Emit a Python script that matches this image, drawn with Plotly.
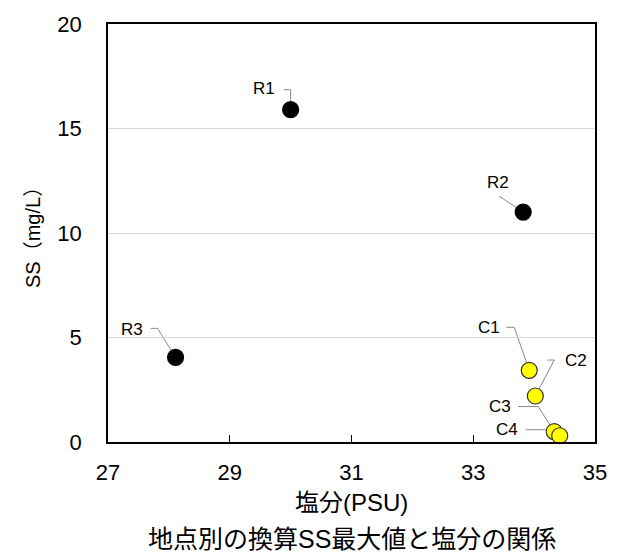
import plotly.graph_objects as go

sites = ["R1", "R2", "R3", "C1", "C2", "C3", "C4"]
salinity = [30.0, 33.82, 28.11, 33.92, 34.02, 34.33, 34.42]
ss = [15.9, 11.0, 4.05, 3.43, 2.2, 0.5, 0.3]
groups = ["R", "R", "R", "C", "C", "C", "C"]

x_ticks = [27, 29, 31, 33, 35]
y_ticks = [0, 5, 10, 15, 20]

# label offsets (pixels) and leader paths (pixel offsets from point, y up)
label_off = {
    "R1": (-27, -21), "R2": (-25, -30), "R3": (-44, -28),
    "C1": (-40, -43), "C2": (41, -36), "C3": (-54, -25), "C4": (-53, -6),
}
leader = {
    "R1": "M -7,20 L 0,20 L 0,0",
    "R2": "M -24,16 L 0,0",
    "R3": "M -25,29 L -18,29 L 0,0",
    "C1": "M -23,43 L -15,43 L 0,0",
    "C2": "M 12,36 L 19,36 L 0,0",
    "C3": "M -36,25 L -16,25 L 0,0",
    "C4": "M -34,6 L -11,6 L 0,0",
}

fig = go.Figure()
for g, fill, line in [("R", "black", "black"), ("C", "#ffff00", "#333333")]:
    xs = [salinity[i] for i in range(len(sites)) if groups[i] == g]
    ys = [ss[i] for i in range(len(sites)) if groups[i] == g]
    fig.add_trace(go.Scatter(x=xs, y=ys, mode="markers",
                             marker=dict(size=16, color=fill, line=dict(color=line, width=1.2)),
                             showlegend=False, cliponaxis=False))

shapes = []
annotations = []
for i, s in enumerate(sites):
    shapes.append(dict(type="path", xref="x", yref="y", xsizemode="pixel", ysizemode="pixel",
                       xanchor=salinity[i], yanchor=ss[i], path=leader[s],
                       line=dict(color="#888888", width=1), layer="below"))
    dx, dy = label_off[s]
    annotations.append(dict(x=salinity[i], y=ss[i], xref="x", yref="y", text=s,
                            showarrow=True, arrowcolor="rgba(0,0,0,0)", ax=dx, ay=dy,
                            font=dict(size=17, color="black", family="Liberation Sans, Arial")))

jp = "Liberation Sans, Noto Sans CJK JP"
annotations.append(dict(x=0.5, y=-0.145, xref="paper", yref="paper", text="塩分(PSU)",
                        showarrow=False, xanchor="center", yanchor="middle",
                        font=dict(size=24, color="black", family=jp)))
annotations.append(dict(x=0.5, y=-0.233, xref="paper", yref="paper", text="地点別の換算SS最大値と塩分の関係",
                        showarrow=False, xanchor="center", yanchor="middle",
                        font=dict(size=25, color="black", family=jp)))
annotations.append(dict(x=-0.154, y=0.5, xref="paper", yref="paper", text="SS（mg/L）",
                        showarrow=False, textangle=-90, xanchor="center", yanchor="middle",
                        font=dict(size=20, color="black", family=jp)))

fig.update_layout(
    width=619, height=553,
    margin=dict(l=108, r=16, t=22, b=111),
    paper_bgcolor="white", plot_bgcolor="white",
    shapes=shapes, annotations=annotations,
    font=dict(family="Liberation Sans, Arial", color="black"),
)
fig.update_xaxes(range=[27, 35], tickvals=x_ticks, ticktext=[str(v) for v in x_ticks],
                 showgrid=False, zeroline=False, showline=True, linecolor="black", linewidth=1.5,
                 mirror=True, ticks="inside", ticklen=7, tickcolor="black",
                 tickfont=dict(size=22), ticklabelstandoff=10)
fig.update_yaxes(range=[0, 20], tickvals=y_ticks, ticktext=[str(v) for v in y_ticks],
                 showgrid=True, gridcolor="#d9d9d9", gridwidth=1, zeroline=False,
                 showline=True, linecolor="black", linewidth=1.5, mirror=True,
                 ticks="", tickfont=dict(size=22), ticklabelstandoff=20)

fig.write_html("out.html", config={"displayModeBar": False},
               post_script="document.body.style.margin='0';document.body.style.overflow='hidden';")
